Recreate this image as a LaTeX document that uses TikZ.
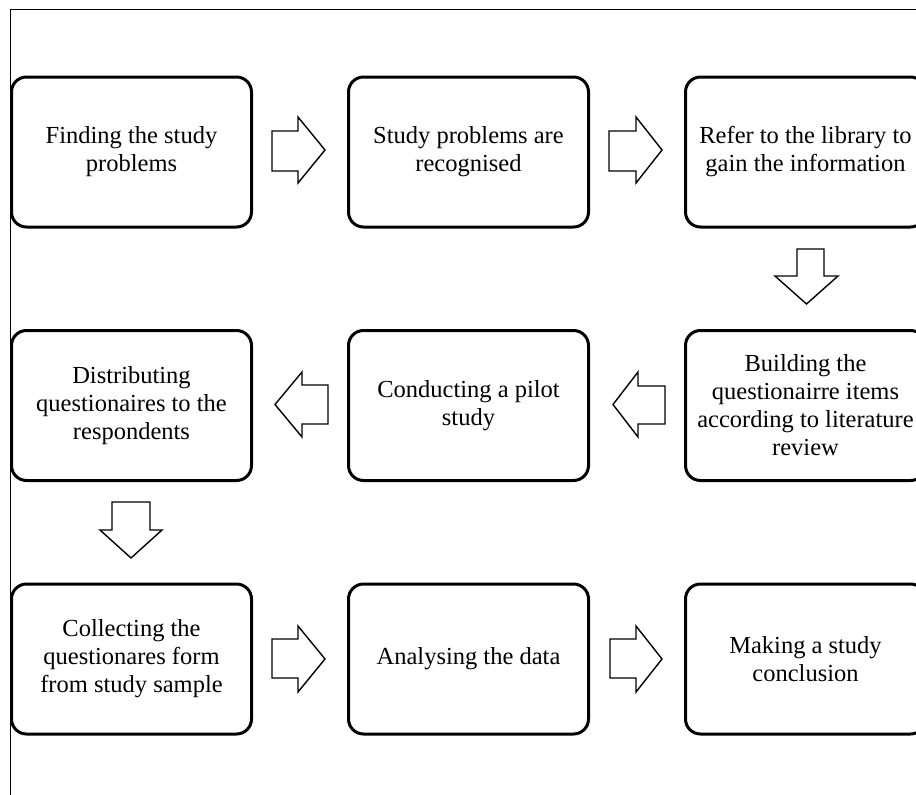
\documentclass[tikz,border=0pt]{standalone}
\usepackage{fontspec}
\setmainfont{Liberation Serif}
\begin{document}
\begin{tikzpicture}[x=1pt,y=-1pt,
  box/.style={draw, line width=3pt, rounded corners=15pt, minimum width=240pt, minimum height=150pt,
    inner sep=0pt, align=center, font=\fontsize{24.5}{28}\selectfont},
  blk/.style={draw, line width=1.4pt, fill=white, line join=miter}]
\useasboundingbox (0,0) rectangle (916,795);
\clip (0,0) rectangle (916,795);
% frame
\draw[line width=1pt] (10.5,795) -- (10.5,9) -- (916,9);
% boxes
\node[box] (b1) at (131.5,152) {Finding the study\\problems};
\node[box] (b2) at (468.5,152) {Study problems are\\recognised};
\node[box] (b3) at (805.5,152) {Refer to the library to\\gain the information};
\node[box] (b4) at (805.5,405.5) {Building the\\questionairre items\\according to literature\\review};
\node[box] (b5) at (468.5,405.5) {Conducting a pilot\\study};
\node[box] (b6) at (131.5,405.5) {Distributing\\questionaires to the\\respondents};
\node[box] (b7) at (131.5,659) {Collecting the\\questionares form\\from study sample};
\node[box] (b8) at (468.5,659) {Analysing the data};
\node[box] (b9) at (805.5,659) {Making a study\\conclusion};
% right block arrows (row 1)
\draw[blk] (272,131) -- (298,131) -- (298,117) -- (325,150) -- (298,183) -- (298,171) -- (272,171) -- cycle;
\draw[blk] (609,131) -- (636,131) -- (636,117) -- (662,150) -- (636,183) -- (636,171) -- (609,171) -- cycle;
% down arrow b3 -> b4
\draw[blk] (797,249) -- (824,249) -- (824,276) -- (838,276) -- (806.5,304) -- (775,276) -- (797,276) -- cycle;
% left arrows (row 2)
\draw[blk] (665,386) -- (638,386) -- (638,372) -- (613,404.5) -- (638,437) -- (638,424) -- (665,424) -- cycle;
\draw[blk] (328,385) -- (302,385) -- (302,372) -- (275,404.5) -- (302,437) -- (302,424) -- (328,424) -- cycle;
% down arrow b6 -> b7
\draw[blk] (112,502) -- (150,502) -- (150,530) -- (162,530) -- (131,558) -- (100,530) -- (112,530) -- cycle;
% right arrows (row 3)
\draw[blk] (272,639) -- (298,639) -- (298,626) -- (325,659) -- (298,692) -- (298,678) -- (272,678) -- cycle;
\draw[blk] (610,639) -- (636,639) -- (636,626) -- (662,659) -- (636,692) -- (636,678) -- (610,678) -- cycle;
\end{tikzpicture}
\end{document}
